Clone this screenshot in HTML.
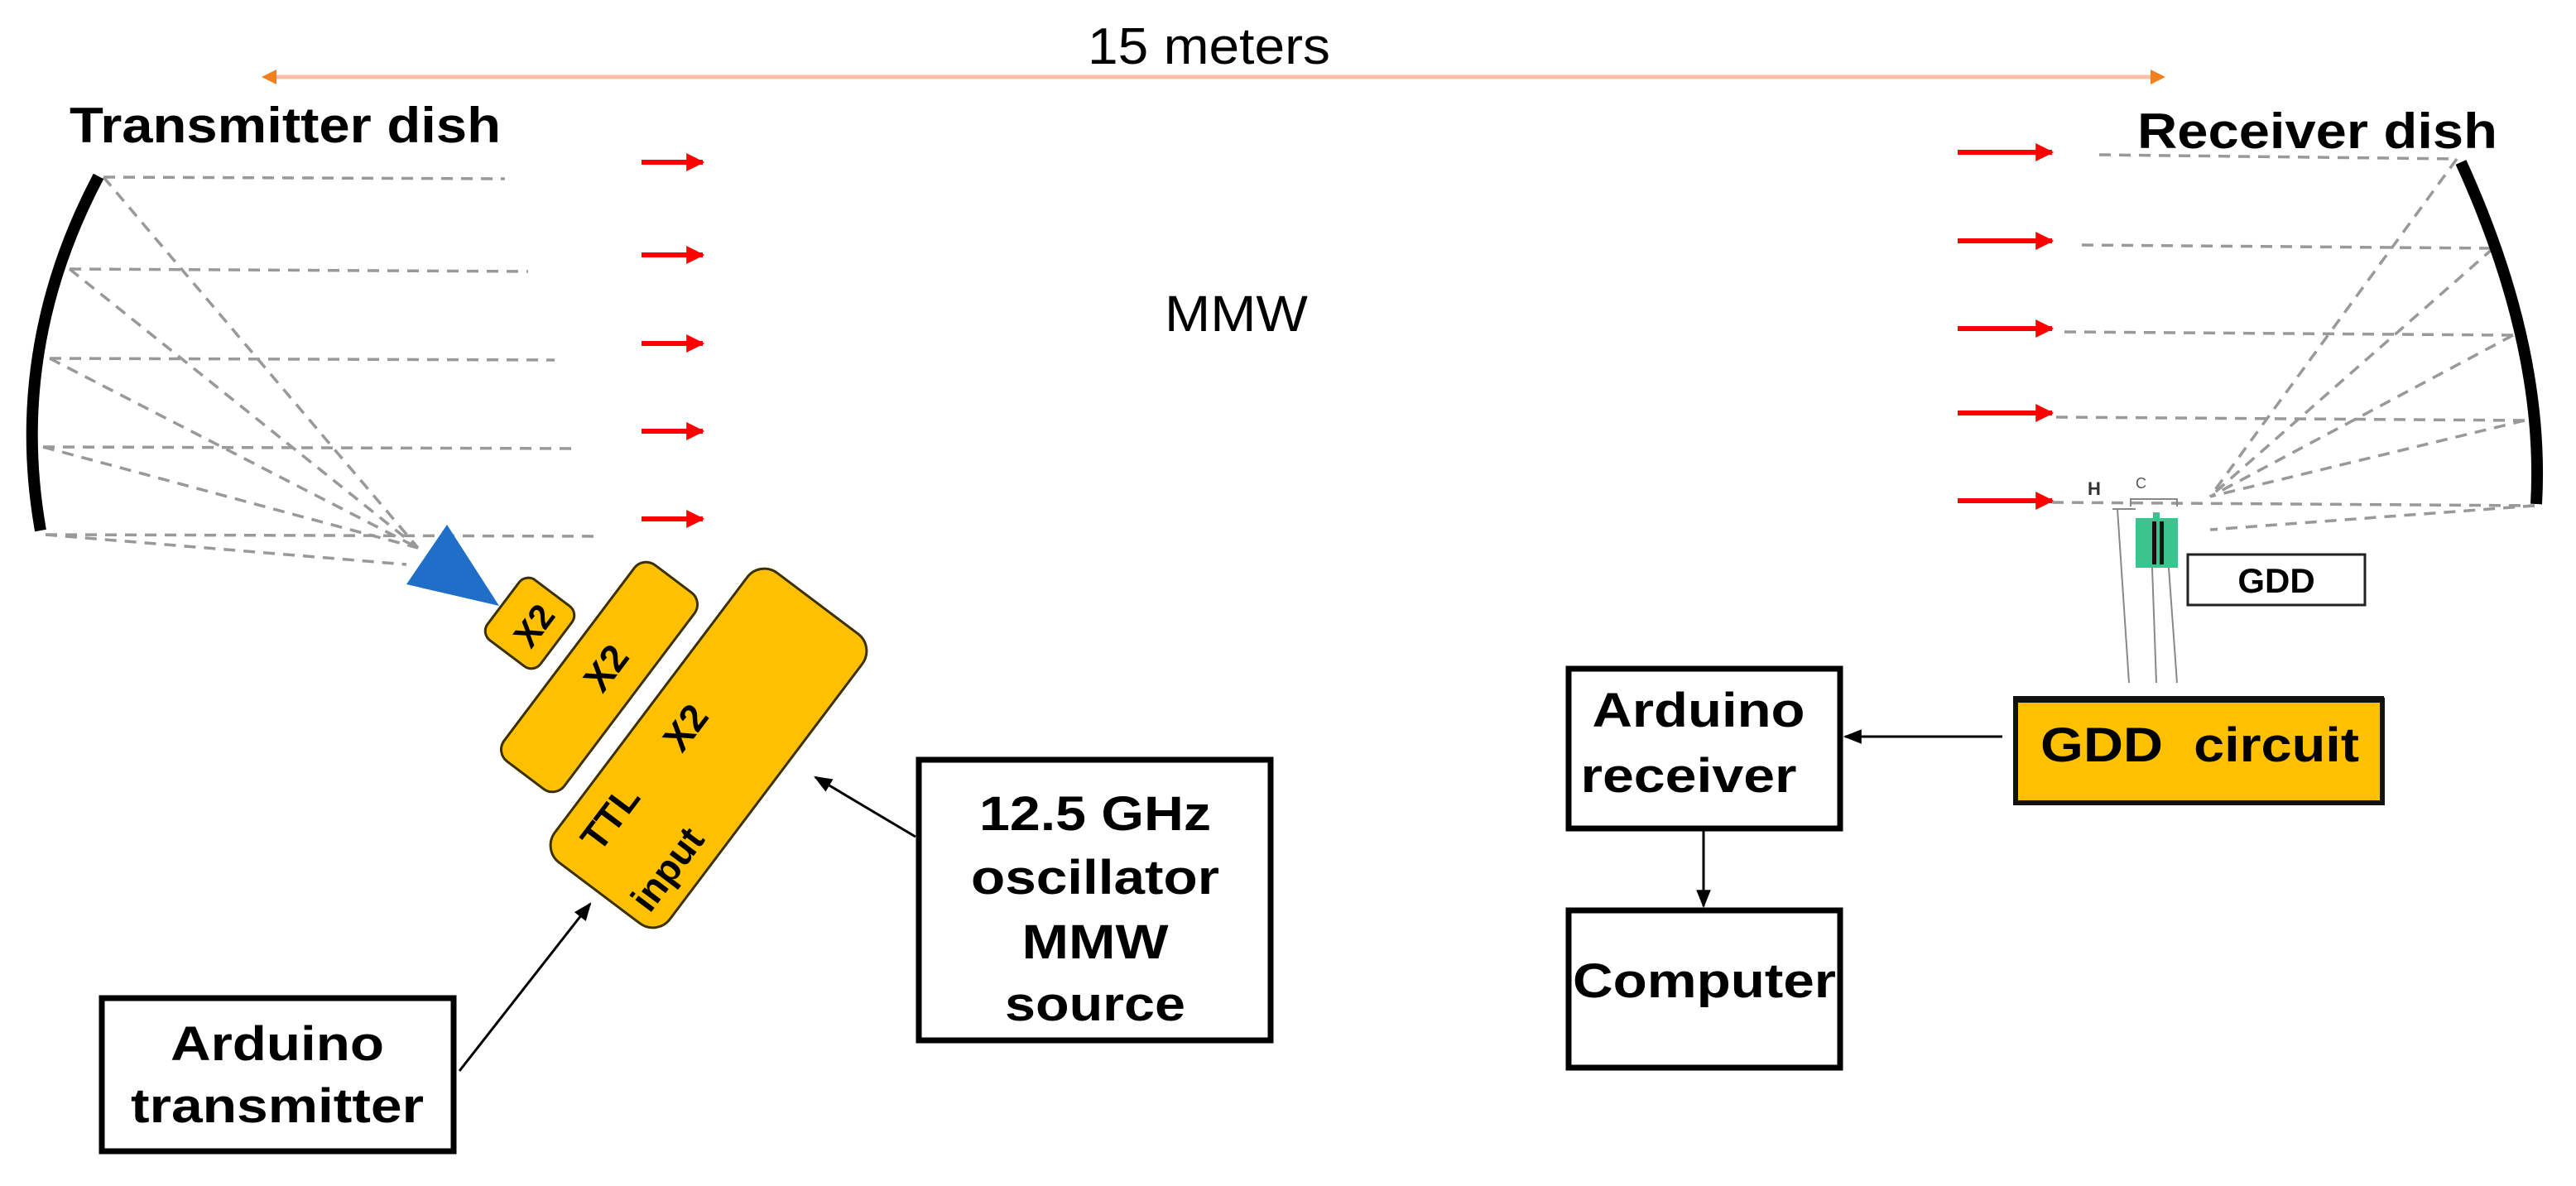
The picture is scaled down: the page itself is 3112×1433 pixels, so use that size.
<!DOCTYPE html>
<html><head><meta charset="utf-8"><style>html,body{margin:0;padding:0;background:#fff}svg{display:block}</style></head>
<body>
<svg width="3112" height="1433" viewBox="0 0 3112 1433" xmlns="http://www.w3.org/2000/svg" font-family="Liberation Sans, Arial, sans-serif">
<defs>
<marker id="ra" viewBox="0 0 10 10" refX="9" refY="5" markerWidth="22" markerHeight="22" orient="auto" markerUnits="userSpaceOnUse"><path d="M0,0 L10,5 L0,10 Z" fill="#FF0000"/></marker>
<marker id="ba" viewBox="0 0 10 10" refX="9" refY="5" markerWidth="22" markerHeight="22" orient="auto" markerUnits="userSpaceOnUse"><path d="M0,1 L10,5 L0,9 Z" fill="#000"/></marker>
</defs>
<rect width="3112" height="1433" fill="#fff"/>

<line x1="330" y1="93" x2="2602" y2="93" stroke="#F8C0A0" stroke-width="5"/>
<path d="M316,93 L334,84 L334,102 Z" fill="#F08020"/>
<path d="M2616,93 L2598,84 L2598,102 Z" fill="#F08020"/>
<text x="1314" y="77" font-size="62" textLength="293" lengthAdjust="spacingAndGlyphs">15 meters</text>
<text x="1407" y="400" font-size="61" textLength="173" lengthAdjust="spacingAndGlyphs">MMW</text>

<text x="84" y="172" font-size="60" font-weight="bold" textLength="521" lengthAdjust="spacingAndGlyphs">Transmitter dish</text>
<text x="2582" y="179" font-size="60" font-weight="bold" textLength="435" lengthAdjust="spacingAndGlyphs">Receiver dish</text>

<g stroke="#999" stroke-width="3.5" stroke-dasharray="14 10" fill="none">
<line x1="125" y1="214" x2="610" y2="216"/>
<line x1="84" y1="325" x2="638" y2="328"/>
<line x1="60" y1="433" x2="670" y2="435"/>
<line x1="52" y1="540" x2="698" y2="542"/>
<line x1="55" y1="646" x2="726" y2="648"/>
<line x1="125" y1="214" x2="505" y2="662"/>
<line x1="84" y1="325" x2="505" y2="662"/>
<line x1="60" y1="433" x2="505" y2="662"/>
<line x1="52" y1="540" x2="505" y2="662"/>
<line x1="55" y1="646" x2="491" y2="682"/>
</g>
<path d="M119,213 Q10,420 49,641" stroke="#000" stroke-width="14" fill="none"/>

<g stroke="#999" stroke-width="3.5" stroke-dasharray="14 10" fill="none">
<line x1="2536" y1="187" x2="2968" y2="192"/>
<line x1="2515" y1="296" x2="3012" y2="300"/>
<line x1="2494" y1="401" x2="3036" y2="405"/>
<line x1="2484" y1="504" x2="3050" y2="508"/>
<line x1="2479" y1="607" x2="3062" y2="611"/>
<line x1="2968" y1="192" x2="2670" y2="600"/>
<line x1="3012" y1="300" x2="2670" y2="600"/>
<line x1="3036" y1="405" x2="2670" y2="600"/>
<line x1="3050" y1="508" x2="2670" y2="600"/>
<line x1="3062" y1="611" x2="2670" y2="640"/>
</g>
<path d="M2973,196 Q3075,420 3064,609" stroke="#000" stroke-width="14" fill="none"/>

<g stroke="#FF0000" stroke-width="6" marker-end="url(#ra)">
<line x1="775" y1="196" x2="849" y2="196"/>
<line x1="775" y1="308" x2="849" y2="308"/>
<line x1="775" y1="415" x2="849" y2="415"/>
<line x1="775" y1="521" x2="849" y2="521"/>
<line x1="775" y1="627" x2="849" y2="627"/>
<line x1="2365" y1="184" x2="2479" y2="184"/>
<line x1="2365" y1="291" x2="2479" y2="291"/>
<line x1="2365" y1="397" x2="2479" y2="397"/>
<line x1="2365" y1="499" x2="2479" y2="499"/>
<line x1="2365" y1="605" x2="2479" y2="605"/>
</g>

<path d="M540,634 L491,706 L603,732 Z" fill="#1F6FC8"/>

<g fill="#FFC000" stroke="#3a3000" stroke-width="3">
<rect x="-40" y="-45.5" width="80" height="91" rx="14" transform="translate(640,753) rotate(37)"/>
<rect x="-45.5" y="-148.5" width="91" height="297" rx="18" transform="translate(724,818) rotate(37)"/>
<rect x="-87" y="-219" width="174" height="438" rx="26" transform="translate(856,904) rotate(37)"/>
</g>
<g font-size="46" font-weight="bold" text-anchor="middle" fill="#000">
<text transform="translate(644,755) rotate(-53)" dy="16" font-size="42">X2</text>
<text transform="translate(732,807) rotate(-53)" dy="16">X2</text>
<text transform="translate(828,879) rotate(-53)" dy="16">X2</text>
<text transform="translate(737,988) rotate(-53)" dy="16">TTL</text>
<text transform="translate(806,1050) rotate(-53)" dy="16">input</text>
</g>

<rect x="123" y="1206" width="425" height="185" fill="#fff" stroke="#000" stroke-width="7"/>
<g font-size="58" font-weight="bold" text-anchor="middle">
<text x="335" y="1281" textLength="258" lengthAdjust="spacingAndGlyphs">Arduino</text>
<text x="335" y="1356" textLength="354" lengthAdjust="spacingAndGlyphs">transmitter</text>
</g>
<line x1="555" y1="1294" x2="713" y2="1092" stroke="#000" stroke-width="3" marker-end="url(#ba)"/>

<rect x="1110" y="918" width="425" height="339" fill="#fff" stroke="#000" stroke-width="7"/>
<g font-size="58" font-weight="bold" text-anchor="middle">
<text x="1323" y="1003" textLength="280" lengthAdjust="spacingAndGlyphs">12.5 GHz</text>
<text x="1323" y="1080" textLength="300" lengthAdjust="spacingAndGlyphs">oscillator</text>
<text x="1323" y="1158" textLength="177" lengthAdjust="spacingAndGlyphs">MMW</text>
<text x="1323" y="1233" textLength="218" lengthAdjust="spacingAndGlyphs">source</text>
</g>
<line x1="1106" y1="1011" x2="985" y2="939" stroke="#000" stroke-width="3" marker-end="url(#ba)"/>

<g stroke="#888" stroke-width="2" fill="none">
<line x1="2600" y1="686" x2="2605" y2="825"/>
<line x1="2620" y1="686" x2="2630" y2="825"/>
<line x1="2558" y1="615" x2="2572" y2="825"/>
<path d="M2574,612 L2574,603 L2630,603 L2630,612"/>
<line x1="2552" y1="615" x2="2580" y2="615"/>
</g>
<rect x="2580" y="626" width="51" height="60" fill="#3CC48E"/>
<rect x="2600" y="630" width="5" height="52" fill="#111"/>
<rect x="2609" y="630" width="5" height="52" fill="#111"/>
<rect x="2601" y="619" width="8" height="9" fill="#3CC48E"/>
<text x="2522" y="598" font-size="22" font-weight="bold" fill="#333">H</text>
<text x="2580" y="590" font-size="18" fill="#555">C</text>
<rect x="2643" y="670" width="214" height="61" fill="#fff" stroke="#222" stroke-width="3"/>
<text x="2750" y="716" font-size="42" font-weight="bold" text-anchor="middle">GDD</text>

<rect x="2435" y="846" width="443" height="124" fill="#FFC000" stroke="#111" stroke-width="6"/>
<line x1="2432" y1="845" x2="2880" y2="845" stroke="#111" stroke-width="8"/>
<text x="2465" y="920" font-size="58" font-weight="bold" textLength="385" lengthAdjust="spacingAndGlyphs" xml:space="preserve">GDD  circuit</text>
<line x1="2419" y1="890" x2="2229" y2="890" stroke="#000" stroke-width="3" marker-end="url(#ba)"/>

<rect x="1895" y="808" width="328" height="193" fill="#fff" stroke="#000" stroke-width="7"/>
<g font-size="58" font-weight="bold" text-anchor="middle">
<text x="2052" y="878" textLength="257" lengthAdjust="spacingAndGlyphs">Arduino</text>
<text x="2040" y="957" textLength="261" lengthAdjust="spacingAndGlyphs">receiver</text>
</g>
<line x1="2058" y1="1004" x2="2058" y2="1095" stroke="#000" stroke-width="3" marker-end="url(#ba)"/>

<rect x="1895" y="1100" width="328" height="190" fill="#fff" stroke="#000" stroke-width="7"/>
<text x="1900" y="1205" font-size="58" font-weight="bold" textLength="318" lengthAdjust="spacingAndGlyphs">Computer</text>
</svg>
</body></html>
